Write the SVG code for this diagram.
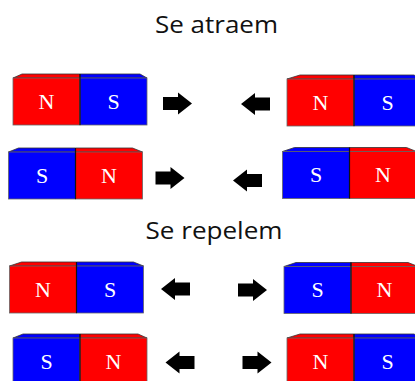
<svg xmlns="http://www.w3.org/2000/svg" width="415" height="381" viewBox="0 0 415 381">
<style>
.n{fill:#ff0000}
.s{fill:#0000ff}
.face{stroke:#666;stroke-width:0.8}
.top{stroke:#333;stroke-width:0.8}
.div{stroke:#111;stroke-width:1.2}
.lbl{font-family:"Liberation Serif","Times New Roman",serif;font-size:22px;fill:#fff;text-anchor:middle}
.title{font-family:"Open Sans","Noto Sans",sans-serif;font-size:24px;fill:#111;text-anchor:middle}
.arr{fill:#000}
</style>
<defs>
<path id="ar" d="M-14.5,-6.5 H0.5 V-11 L14.5,0 L0.5,11 V6.5 H-14.5 Z"/>
</defs>
<rect width="415" height="381" fill="#fff"/>
<text class="title" x="216.5" y="33" textLength="123" lengthAdjust="spacingAndGlyphs">Se atraem</text>
<text class="title" x="214" y="239" textLength="137" lengthAdjust="spacingAndGlyphs">Se repelem</text>

<g id="m1" transform="translate(13,78)">
<polygon class="n top" points="0,0 9,-4 67,-4 67,0"/><polygon class="s top" points="67,0 67,-4 127,-4 134,0"/>
<rect class="n face" x="0" y="0" width="67" height="47"/><rect class="s face" x="67" y="0" width="67" height="47"/>
<line class="div" x1="67" y1="-4" x2="67" y2="47"/>
<text class="lbl" x="33.5" y="30.5">N</text><text class="lbl" x="100.5" y="30.5">S</text>
</g>
<g id="m2" transform="translate(287,79)">
<polygon class="n top" points="0,0 13,-4 67,-4 67,0"/><polygon class="s top" points="67,0 67,-4 127,-4 134,0"/>
<rect class="n face" x="0" y="0" width="67" height="47"/><rect class="s face" x="67" y="0" width="67" height="47"/>
<line class="div" x1="67" y1="-4" x2="67" y2="47"/>
<text class="lbl" x="33.5" y="30.5">N</text><text class="lbl" x="100.5" y="30.5">S</text>
</g>
<g id="m3" transform="translate(8.5,152)">
<polygon class="s top" points="0,0 10,-4 67,-4 67,0"/><polygon class="n top" points="67,0 67,-4 124,-4 134,0"/>
<rect class="s face" x="0" y="0" width="67" height="47"/><rect class="n face" x="67" y="0" width="67" height="47"/>
<line class="div" x1="67" y1="-4" x2="67" y2="47"/>
<text class="lbl" x="33.5" y="30.5">S</text><text class="lbl" x="100.5" y="30.5">N</text>
</g>
<g id="m4" transform="translate(282.5,151.5)">
<polygon class="s top" points="0,0 12,-4 67,-4 67,0"/><polygon class="n top" points="67,0 67,-4 124,-4 134,0"/>
<rect class="s face" x="0" y="0" width="67" height="47"/><rect class="n face" x="67" y="0" width="67" height="47"/>
<line class="div" x1="67" y1="-4" x2="67" y2="47"/>
<text class="lbl" x="33.5" y="30.5">S</text><text class="lbl" x="100.5" y="30.5">N</text>
</g>
<g id="m5" transform="translate(9.5,266)">
<polygon class="n top" points="0,0 12,-4 67,-4 67,0"/><polygon class="s top" points="67,0 67,-4 124,-4 134,0"/>
<rect class="n face" x="0" y="0" width="67" height="47"/><rect class="s face" x="67" y="0" width="67" height="47"/>
<line class="div" x1="67" y1="-4" x2="67" y2="47"/>
<text class="lbl" x="33.5" y="30.5">N</text><text class="lbl" x="100.5" y="30.5">S</text>
</g>
<g id="m6" transform="translate(284,266.5)">
<polygon class="s top" points="0,0 12,-4 67,-4 67,0"/><polygon class="n top" points="67,0 67,-4 124,-4 134,0"/>
<rect class="s face" x="0" y="0" width="67" height="47"/><rect class="n face" x="67" y="0" width="67" height="47"/>
<line class="div" x1="67" y1="-4" x2="67" y2="47"/>
<text class="lbl" x="33.5" y="30.5">S</text><text class="lbl" x="100.5" y="30.5">N</text>
</g>
<g id="m7" transform="translate(13,338)">
<polygon class="s top" points="0,0 10,-4 67,-4 67,0"/><polygon class="n top" points="67,0 67,-4 125,-4 134,0"/>
<rect class="s face" x="0" y="0" width="67" height="47"/><rect class="n face" x="67" y="0" width="67" height="47"/>
<line class="div" x1="67" y1="-4" x2="67" y2="47"/>
<text class="lbl" x="33.5" y="30.5">S</text><text class="lbl" x="100.5" y="30.5">N</text>
</g>
<g id="m8" transform="translate(287,338)">
<polygon class="n top" points="0,0 13,-4 67,-4 67,0"/><polygon class="s top" points="67,0 67,-4 127,-4 134,0"/>
<rect class="n face" x="0" y="0" width="67" height="47"/><rect class="s face" x="67" y="0" width="67" height="47"/>
<line class="div" x1="67" y1="-4" x2="67" y2="47"/>
<text class="lbl" x="33.5" y="30.5">N</text><text class="lbl" x="100.5" y="30.5">S</text>
</g>

<g id="arrows" class="arr">
<use href="#ar" transform="translate(177.5,103.5)"/>
<use href="#ar" transform="translate(255.5,104) scale(-1,1)"/>
<use href="#ar" transform="translate(170,178)"/>
<use href="#ar" transform="translate(247.5,180.5) scale(-1,1)"/>
<use href="#ar" transform="translate(175.5,289) scale(-1,1)"/>
<use href="#ar" transform="translate(252.5,290)"/>
<use href="#ar" transform="translate(180,362.5) scale(-1,1)"/>
<use href="#ar" transform="translate(257,362.5)"/>
</g>
</svg>
